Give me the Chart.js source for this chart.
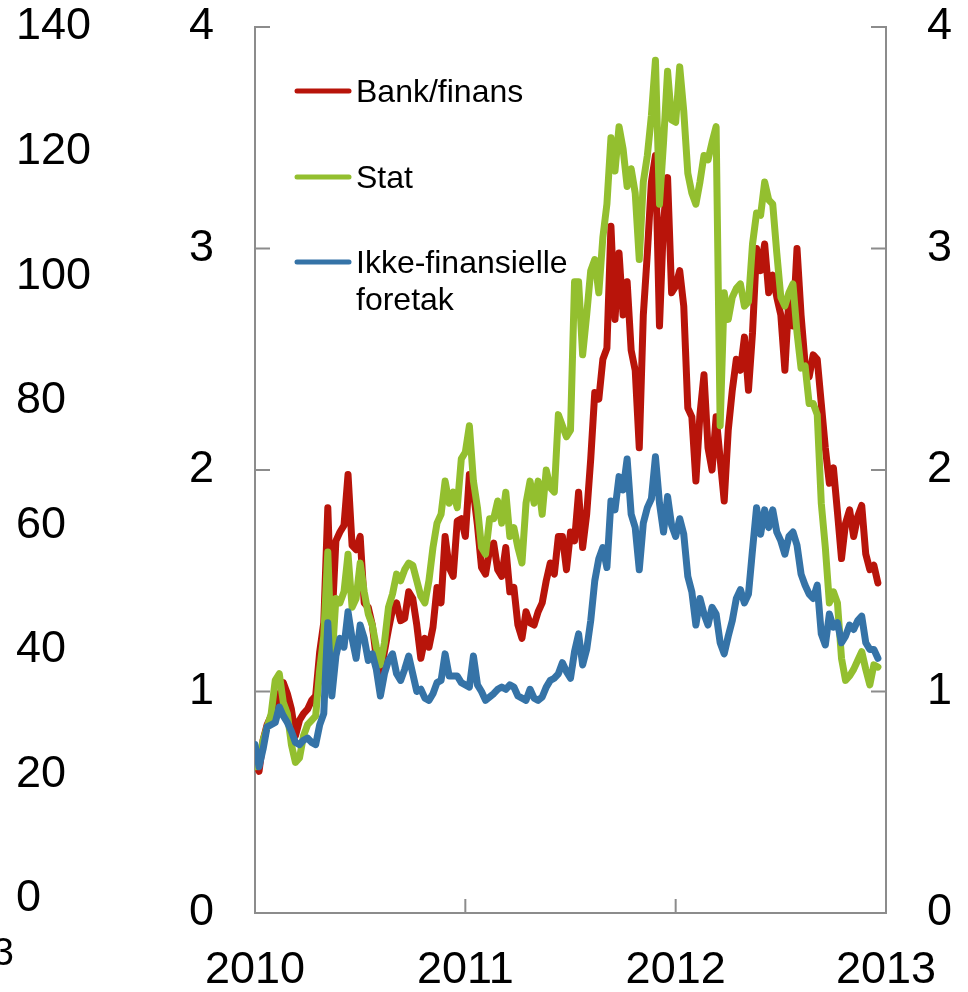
<!DOCTYPE html>
<html>
<head>
<meta charset="utf-8">
<script src="https://cdn.jsdelivr.net/npm/chart.js@4.4.0/dist/chart.umd.min.js"></script>
<style>
  html, body { margin: 0; padding: 0; background: #fff; }
  #wrap { position: relative; width: 968px; height: 992px; }
</style>
</head>
<body>
<div id="wrap"><canvas id="chart"></canvas></div>
<script>
// weekly observations, first week of 2010 to mid December 2012
const startYear = 2010;
const seriesNames = [['Bank/finans'], ['Stat'], ['Ikke-finansielle', 'foretak']];
const otherPanelTicks = [0, 20, 40, 60, 80, 100, 120, 140];

const bankFinans = [
  0.68, 0.64, 0.78, 0.85, 0.89, 0.90, 0.98, 1.04, 0.99, 0.92,
  0.80, 0.87, 0.90, 0.92, 0.96, 0.98, 1.18, 1.31, 1.83, 1.30,
  1.68, 1.72, 1.75, 1.98, 1.66, 1.64, 1.70, 1.40, 1.38, 1.30,
  1.15, 1.08, 1.18, 1.28, 1.37, 1.40, 1.32, 1.33, 1.45, 1.42,
  1.30, 1.15, 1.24, 1.20, 1.29, 1.47, 1.40, 1.70, 1.56, 1.52,
  1.77, 1.78, 1.70, 1.98, 1.90, 1.75, 1.56, 1.53, 1.64, 1.67,
  1.55, 1.52, 1.65, 1.45, 1.47, 1.30, 1.24, 1.36, 1.31, 1.30,
  1.36, 1.40, 1.50, 1.58, 1.53, 1.70, 1.70, 1.55, 1.72, 1.68,
  1.90, 1.65, 1.80, 2.05, 2.35, 2.32, 2.50, 2.55, 3.10, 2.68,
  2.98, 2.70, 2.85, 2.54, 2.45, 2.10, 2.70, 2.98, 3.30, 3.42,
  2.65, 3.12, 3.32, 2.80, 2.83, 2.90, 2.74, 2.28, 2.24, 1.95,
  2.25, 2.43, 2.10, 2.00, 2.24, 2.05, 1.86, 2.18, 2.36, 2.50,
  2.45, 2.60, 2.36, 2.62, 3.00, 2.90, 3.02, 2.80, 2.88, 2.78,
  2.70, 2.45, 2.78, 2.65, 3.00, 2.70, 2.48, 2.42, 2.52, 2.50,
  2.30, 2.10, 1.94, 2.01, 1.81, 1.60, 1.76, 1.82, 1.70, 1.79,
  1.84, 1.62, 1.55, 1.57, 1.49
];

const stat = [
  0.66, 0.68, 0.78, 0.84, 0.90, 1.05, 1.08, 0.95, 0.90, 0.76,
  0.68, 0.70, 0.80, 0.85, 0.87, 0.89, 1.10, 1.25, 1.63, 1.13,
  1.42, 1.40, 1.45, 1.62, 1.38, 1.42, 1.58, 1.45, 1.35, 1.30,
  1.20, 1.12, 1.22, 1.38, 1.44, 1.53, 1.50, 1.55, 1.58, 1.57,
  1.50, 1.43, 1.40, 1.50, 1.65, 1.76, 1.80, 1.95, 1.85, 1.90,
  1.83, 2.05, 2.08, 2.20, 1.95, 1.83, 1.65, 1.62, 1.78, 1.78,
  1.86, 1.76, 1.90, 1.70, 1.74, 1.65, 1.58, 1.85, 1.95, 1.85,
  1.95, 1.80, 2.00, 1.92, 1.90, 2.25, 2.20, 2.15, 2.18, 2.85,
  2.85, 2.52, 2.70, 2.90, 2.95, 2.80, 3.05, 3.20, 3.50, 3.35,
  3.55, 3.45, 3.28, 3.36, 3.25, 2.95, 3.30, 3.42, 3.60, 3.85,
  3.20, 3.48, 3.80, 3.58, 3.57, 3.82, 3.62, 3.34, 3.25, 3.20,
  3.30, 3.42, 3.40, 3.48, 3.55, 2.20, 2.80, 2.68, 2.78, 2.82,
  2.84, 2.74, 2.76, 3.02, 3.16, 3.15, 3.30, 3.22, 3.20, 2.98,
  2.78, 2.74, 2.80, 2.84, 2.62, 2.46, 2.47, 2.30, 2.30, 2.25,
  1.85, 1.65, 1.40, 1.45, 1.40, 1.15, 1.05, 1.07, 1.10, 1.14,
  1.18, 1.10, 1.03, 1.12, 1.11
];

const ikkeFinansielle = [
  0.76, 0.66, 0.74, 0.84, 0.85, 0.86, 0.93, 0.89, 0.86, 0.82,
  0.77, 0.76, 0.78, 0.79, 0.77, 0.76, 0.85, 0.90, 1.31, 0.98,
  1.16, 1.24, 1.20, 1.36, 1.24, 1.15, 1.30, 1.24, 1.14, 1.17,
  1.10, 0.98, 1.08, 1.14, 1.17, 1.08, 1.05, 1.10, 1.16, 1.08,
  1.00, 1.01, 0.97, 0.96, 0.99, 1.04, 1.05, 1.17, 1.07, 1.07,
  1.07, 1.04, 1.03, 1.02, 1.16, 1.03, 1.00, 0.96, 0.975, 0.99,
  1.01, 1.02, 1.01, 1.03, 1.02, 0.98, 0.97, 0.96, 1.01, 0.97,
  0.96, 0.975, 1.02, 1.05, 1.06, 1.08, 1.13, 1.09, 1.06, 1.18,
  1.26, 1.12, 1.19, 1.32, 1.50, 1.60, 1.65, 1.56, 1.86, 1.82,
  1.97, 1.91, 2.05, 1.80, 1.74, 1.55, 1.76, 1.83, 1.87, 2.06,
  1.85, 1.72, 1.88, 1.75, 1.70, 1.78, 1.71, 1.52, 1.45, 1.30,
  1.42, 1.35, 1.30, 1.38, 1.35, 1.22, 1.17, 1.25, 1.32, 1.42,
  1.46, 1.40, 1.44, 1.64, 1.83, 1.71, 1.82, 1.74, 1.82, 1.72,
  1.68, 1.62, 1.70, 1.72, 1.66, 1.53, 1.48, 1.44, 1.42, 1.48,
  1.26, 1.21, 1.35, 1.29, 1.31, 1.22, 1.25, 1.30, 1.28, 1.32,
  1.34, 1.22, 1.19, 1.19, 1.15
];

const weeks = bankFinans.map((v, i) => startYear + i / 52);
const toPoints = vals => vals.map((v, i) => ({ x: weeks[i], y: v }));

const FONT = '"Liberation Sans", Arial, sans-serif';
const axisGray = '#8c8c8c';
const colors = ['#b8140a', '#93bf2f', '#3573a7'];
const lineWidth = 7;

// small tick marks pointing into the plot, like the original
const innerTicks = {
  id: 'innerTicks',
  beforeDatasetsDraw(chart) {
    const { ctx, chartArea: a, scales } = chart;
    ctx.save();
    ctx.strokeStyle = axisGray;
    ctx.lineWidth = 2;
    ctx.beginPath();
    scales.y.ticks.forEach(t => {
      const p = scales.y.getPixelForValue(t.value);
      ctx.moveTo(a.left, p); ctx.lineTo(a.left + 15, p);
    });
    scales.y2.ticks.forEach(t => {
      const p = scales.y2.getPixelForValue(t.value);
      ctx.moveTo(a.right - 15, p); ctx.lineTo(a.right, p);
    });
    scales.x.ticks.forEach(t => {
      const p = scales.x.getPixelForValue(t.value);
      ctx.moveTo(p, a.bottom); ctx.lineTo(p, a.bottom - 14);
    });
    ctx.stroke();
    ctx.restore();
  }
};

// legend inside the plot, one entry per row
const sideLegend = {
  id: 'sideLegend',
  afterDraw(chart) {
    const { ctx, chartArea: a } = chart;
    const rows = [64, 150, 235];
    ctx.save();
    ctx.font = '32px ' + FONT;
    ctx.fillStyle = '#000';
    ctx.textBaseline = 'alphabetic';
    ctx.lineCap = 'round';
    ctx.lineWidth = 5;
    chart.data.datasets.forEach((ds, i) => {
      const y = a.top + rows[i];
      ctx.strokeStyle = ds.borderColor;
      ctx.beginPath();
      ctx.moveTo(a.left + 42, y); ctx.lineTo(a.left + 94, y);
      ctx.stroke();
      seriesNames[i].forEach((line, k) => {
        ctx.fillText(line, a.left + 101, y + 11 + k * 37);
      });
    });
    // cut-off year label of the neighbouring panel
    ctx.font = '38px ' + FONT;
    ctx.textAlign = 'right';
    ctx.fillText('2013', 14, 965);
    ctx.restore();
  }
};

const tickFont = { family: FONT, size: 45 };

function series(i, vals, order) {
  return {
    label: seriesNames[i].join(' '),
    data: toPoints(vals),
    borderColor: colors[i],
    borderWidth: lineWidth,
    tension: 0,
    borderJoinStyle: 'round',
    borderCapStyle: 'round',
    pointRadius: 0,
    fill: false,
    order: order
  };
}

new Chart(document.getElementById('chart'), {
  type: 'line',
  data: {
    datasets: [
      series(0, bankFinans, 3),
      series(1, stat, 2),
      series(2, ikkeFinansielle, 1)
    ]
  },
  options: {
    responsive: true,
    maintainAspectRatio: false,
    animation: false,
    layout: { padding: { left: 16, right: 16, top: 0, bottom: 0 } },
    plugins: { legend: { display: false }, tooltip: { enabled: false } },
    scales: {
      x: {
        type: 'linear', min: 2010, max: 2013,
        grid: { display: false, drawTicks: false },
        border: { display: true, color: axisGray, width: 2 },
        afterFit: s => { s.height = 79; },
        ticks: { stepSize: 1, padding: 0, color: '#000', font: { family: FONT, size: 45, lineHeight: 2.58 },
                 callback: v => String(v) }
      },
      y: {
        position: 'left', min: 0, max: 4, weight: 1,
        grid: { display: false, drawTicks: false },
        border: { display: true, color: axisGray, width: 2 },
        afterFit: s => { s.width = 66; },
        ticks: { stepSize: 1, padding: 0, crossAlign: 'far', color: '#000', font: tickFont }
      },
      yOther: {
        position: 'left', min: -2.25, max: 140, weight: 2,
        grid: { display: false, drawTicks: false },
        border: { display: false },
        afterFit: s => { s.width = 173; },
        afterBuildTicks: s => { s.ticks = otherPanelTicks.map(v => ({ value: v })); },
        ticks: { padding: 0, crossAlign: 'far', color: '#000', font: tickFont }
      },
      y2: {
        position: 'right', min: 0, max: 4,
        grid: { display: false, drawTicks: false },
        border: { display: true, color: axisGray, width: 2 },
        afterFit: s => { s.width = 66; },
        ticks: { stepSize: 1, padding: 0, crossAlign: 'far', color: '#000', font: tickFont }
      }
    }
  },
  plugins: [innerTicks, sideLegend]
});
</script>
</body>
</html>
